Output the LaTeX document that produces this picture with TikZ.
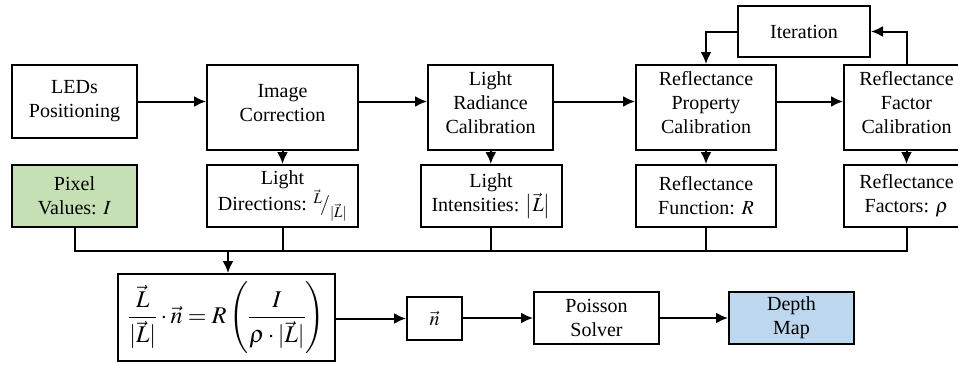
\documentclass[tikz,border=0pt]{standalone}
\usepackage{amsmath}
\usepackage{mathptmx}
\usepackage{fontspec}
\setmainfont{Liberation Serif}
\usetikzlibrary{arrows.meta}
\definecolor{pixgreen}{RGB}{197,224,180}
\definecolor{depthblue}{RGB}{189,215,238}
\tikzset{
  blk/.style={draw, line width=2pt, align=center, inner sep=0pt,
    font=\fontsize{20}{24}\selectfont},
  raised/.style={text depth=10pt},
  flow/.style={line width=2pt, -{Latex[length=12pt,width=11pt]}},
  link/.style={line width=2pt}
}
\begin{document}
\begin{tikzpicture}[x=1pt,y=-1pt]
\useasboundingbox (0,0) rectangle (958,364);
% first row
\node[blk, minimum width=125pt, minimum height=73pt] (leds) at (74.5,101.5) {LEDs\\Positioning};
\node[blk, raised, minimum width=151pt, minimum height=85pt] (imgcor) at (282.5,107.5) {Image\\Correction};
\node[blk, raised, minimum width=125pt, minimum height=85pt] (radcal) at (490.5,107.5) {Light\\Radiance\\Calibration};
\node[blk, raised, minimum width=140pt, minimum height=85pt] (refprop) at (706,107.5) {Reflectance\\Property\\Calibration};
\node[blk, raised, minimum width=125pt, minimum height=85pt] (refcal) at (906.5,107.5) {Reflectance\\Factor\\Calibration};
\node[blk, minimum width=132pt, minimum height=51pt] (iter) at (804,31.5) {Iteration};
% second row
\node[blk, fill=pixgreen, minimum width=125pt, minimum height=62pt] (pixel) at (74.5,196) {Pixel\\Values: $I$};
\node[blk, minimum width=151pt, minimum height=62pt] (ldir) at (282.5,196) {Light\\Directions: ${}^{\vec{L}}\!/_{\lvert\vec{L}\rvert}$};
\node[blk, minimum width=141pt, minimum height=62pt] (lint) at (491,196) {Light\\Intensities: $\bigl\lvert\vec{L}\bigr\rvert$};
\node[blk, minimum width=140pt, minimum height=62pt] (reffun) at (706,196) {Reflectance\\Function: $R$};
\node[blk, minimum width=125pt, minimum height=62pt] (reffac) at (906.5,196) {Reflectance\\Factors: $\rho$};
% bottom row
\node[blk, font=\fontsize{24}{28}\selectfont, minimum width=217pt, minimum height=87pt] (formula) at (226.5,317.5)
  {$\dfrac{\vec{L}}{\lvert\vec{L}\rvert}\cdot\vec{n} = R\left(\dfrac{I}{\rho\cdot\lvert\vec{L}\rvert}\right)$};
\node[blk, minimum width=55pt, minimum height=43pt] (nvec) at (434.5,318.5) {$\vec{n}$};
\node[blk, minimum width=125pt, minimum height=52pt] (poisson) at (596.5,318) {Poisson\\Solver};
\node[blk, fill=depthblue, minimum width=125pt, minimum height=52pt] (depth) at (791.5,318) {Depth\\Map};
\coordinate (bus) at (228,251);
% connectors
\draw[flow] (leds.east) -- (leds.east -| imgcor.west);
\draw[flow] (imgcor.east |- leds.east) -- (leds.east -| radcal.west);
\draw[flow] (radcal.east |- leds.east) -- (leds.east -| refprop.west);
\draw[flow] (refprop.east |- leds.east) -- (leds.east -| refcal.west);
\draw[flow] (imgcor) -- (ldir);
\draw[flow] (radcal) -- (lint);
\draw[flow] (refprop) -- (reffun);
\draw[flow] (refcal) -- (reffac);
\draw[flow] (refcal.north) |- (iter.east);
\draw[flow] (iter.west) -| (refprop.north);
\draw[link] (pixel.south) |- (bus) -| (reffac.south);
\foreach \b in {ldir,lint,reffun}
  \draw[link] (\b.south) -- (\b.south |- bus);
\draw[flow] (bus) -- (bus |- formula.north);
\draw[flow] (formula.east |- nvec) -- (nvec.west);
\draw[flow] (nvec.east |- poisson) -- (poisson.west);
\draw[flow] (poisson) -- (depth);
\end{tikzpicture}
\end{document}
